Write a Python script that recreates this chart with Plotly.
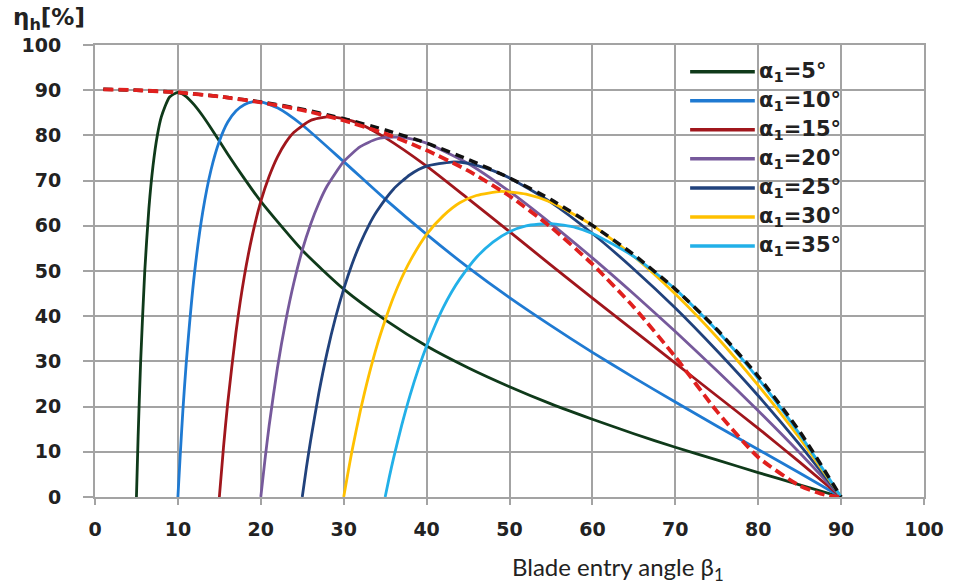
import plotly.graph_objects as go

# ---------------- data ----------------
series_names = ["α<sub>1</sub>=5°", "α<sub>1</sub>=10°", "α<sub>1</sub>=15°", "α<sub>1</sub>=20°",
                "α<sub>1</sub>=25°", "α<sub>1</sub>=30°", "α<sub>1</sub>=35°"]

beta_a5 = [5, 5.2, 5.5, 6, 6.5, 7, 7.5, 8, 9, 10, 11, 12, 13, 14, 16, 18, 20, 25, 30, 35, 40, 45, 50, 55, 60, 65, 70, 75, 80, 85, 90]
eta_a5 = [0, 13.3, 29.7, 49.9, 63.8, 73.3, 79.8, 84.1, 88.5, 89.5, 88.6, 86.7, 84.3, 81.6, 75.9, 70.5, 65.4, 54.6, 46.0, 39.2, 33.4, 28.6, 24.4, 20.6, 17.2, 14.0, 11.0, 8.2, 5.4, 2.7, 0]

beta_a10 = [10, 10.3, 10.6, 11, 12, 13, 14, 15, 16, 17, 18, 19, 20, 22, 25, 30, 35, 40, 45, 50, 55, 60, 65, 70, 75, 80, 85, 90]
eta_a10 = [0, 9.9, 19.1, 29.5, 49.5, 63.1, 72.4, 78.7, 82.9, 85.4, 86.8, 87.4, 87.4, 86.1, 82.3, 74.2, 65.9, 58.1, 50.8, 44.1, 37.9, 32.0, 26.4, 21.0, 15.7, 10.5, 5.3, 0]

beta_a15 = [15, 15.5, 16, 17, 18, 19, 20, 21, 22, 23, 24, 26, 28, 30, 32, 35, 40, 45, 50, 55, 60, 65, 70, 75, 80, 85, 90]
eta_a15 = [0, 11.0, 20.6, 36.4, 48.7, 58.1, 65.4, 70.9, 75.2, 78.4, 80.7, 83.3, 84.1, 83.7, 82.5, 79.5, 73.2, 66.0, 58.7, 51.3, 44.0, 36.8, 29.6, 22.4, 15.2, 7.7, 0]

beta_a20 = [20, 20.5, 21, 22, 23, 24, 25, 26, 27, 28, 30, 32, 34, 36, 38, 40, 45, 50, 55, 60, 65, 70, 75, 80, 85, 90]
eta_a20 = [0, 8.2, 15.7, 28.5, 38.9, 47.5, 54.6, 60.3, 65.0, 68.8, 74.2, 77.5, 79.2, 79.6, 79.3, 78.3, 73.8, 67.6, 60.5, 52.9, 44.9, 36.6, 28.0, 19.1, 9.8, 0]

beta_a25 = [25, 25.5, 26, 27, 28, 29, 30, 31, 32, 33, 34, 36, 38, 40, 43, 45, 48, 50, 55, 60, 65, 70, 75, 80, 85, 90]
eta_a25 = [0, 6.5, 12.4, 23.0, 32.0, 39.6, 46.0, 51.5, 56.1, 60.0, 63.2, 68.1, 71.3, 73.2, 74.1, 73.8, 72.2, 70.6, 65.2, 58.3, 50.4, 41.8, 32.4, 22.4, 11.6, 0]

beta_a30 = [30, 30.5, 31, 32, 33, 34, 35, 36, 37, 38, 40, 42, 44, 46, 49, 52, 55, 60, 65, 70, 75, 80, 85, 90]
eta_a30 = [0, 5.2, 10.2, 19.0, 26.7, 33.4, 39.1, 44.2, 48.5, 52.2, 58.1, 62.2, 65.1, 66.7, 67.6, 67.0, 65.2, 60.1, 53.2, 44.9, 35.4, 24.7, 13.0, 0]

beta_a35 = [35, 35.5, 36, 37, 38, 39, 40, 41, 42, 43, 44, 46, 48, 50, 52, 55, 58, 60, 65, 70, 75, 80, 85, 90]
eta_a35 = [0, 4.4, 8.5, 15.9, 22.5, 28.3, 33.4, 37.9, 41.9, 45.3, 48.2, 53.0, 56.4, 58.7, 60.0, 60.5, 59.6, 58.3, 53.2, 46.0, 36.9, 26.2, 13.9, 0]

# black dashed envelope
beta_env = [1, 5, 10, 15, 20, 25, 30, 35, 40, 45, 50, 55, 60, 65, 70, 75, 80, 85, 90]
eta_env = [90.2, 90.0, 89.5, 88.6, 87.4, 85.8, 83.7, 81.2, 78.3, 74.7, 70.6, 65.8, 60.1, 53.6, 46.0, 37.1, 26.7, 14.5, 0]

# red dashed curve (locus of maxima)
beta_peak = [1, 5, 10, 15, 20, 25, 30, 35, 40, 45, 50, 55, 60, 65, 70, 75, 80, 85, 88, 90]
eta_peak = [90.2, 90.0, 89.5, 88.6, 87.3, 85.6, 83.3, 80.4, 76.7, 72.2, 66.6, 59.7, 51.5, 42.0, 31.0, 19.0, 8.8, 2.5, 0.5, 0]

x_ticks = [0, 10, 20, 30, 40, 50, 60, 70, 80, 90, 100]
y_ticks = [0, 10, 20, 30, 40, 50, 60, 70, 80, 90, 100]

# ---------------- styling ----------------
colors = ["#0f3a1a", "#1f7ad2", "#a0161c", "#76599b", "#21427c", "#ffc000", "#22b0e8"]
betas = [beta_a5, beta_a10, beta_a15, beta_a20, beta_a25, beta_a30, beta_a35]
etas = [eta_a5, eta_a10, eta_a15, eta_a20, eta_a25, eta_a30, eta_a35]

W, H = 956, 585
ML, MR, MT, MB = 95, 28, 45, 88
PW, PH = W - ML - MR, H - MT - MB
GRID = "#a3a3a3"
TXT = "#222222"
BOLD_FONT = "DejaVu Sans"

fig = go.Figure()
for name, bx, ey, col in zip(series_names, betas, etas, colors):
    fig.add_trace(go.Scatter(x=bx, y=ey, mode="lines", name=name,
                             line=dict(color=col, width=2.8, shape="spline", smoothing=0.6),
                             showlegend=False))

fig.add_trace(go.Scatter(x=beta_env, y=eta_env, mode="lines", name="envelope",
                         line=dict(color="#111111", width=3.5, dash="9px,6px", shape="spline", smoothing=0.6),
                         showlegend=False))
fig.add_trace(go.Scatter(x=beta_peak, y=eta_peak, mode="lines", name="maxima",
                         line=dict(color="#e0201e", width=3.8, dash="10px,5px", shape="spline", smoothing=0.6),
                         showlegend=False))

# manual legend (long line samples as in the reference)
def px_to_paper_x(px):
    return (px - ML) / PW

def px_to_paper_y(py):
    return (H - MB - py) / PH

row_top = 71.7
row_gap = 29.05
for i, (name, col) in enumerate(zip(series_names, colors)):
    yy = px_to_paper_y(row_top + i * row_gap)
    fig.add_shape(type="line", xref="paper", yref="paper",
                  x0=px_to_paper_x(693), x1=px_to_paper_x(758), y0=yy, y1=yy,
                  line=dict(color=col, width=3.5))
    fig.add_annotation(xref="paper", yref="paper", x=px_to_paper_x(760), y=yy,
                       xanchor="left", yanchor="middle", showarrow=False, text=name,
                       font=dict(family=BOLD_FONT, size=21, color=TXT, weight="bold"))

# axis titles
fig.add_annotation(xref="paper", yref="paper", x=px_to_paper_x(11), y=px_to_paper_y(19),
                   xanchor="left", yanchor="middle", showarrow=False,
                   text="η<sub>h</sub>[%]",
                   font=dict(family=BOLD_FONT, size=23, color=TXT, weight="bold"))
fig.add_annotation(xref="paper", yref="paper", x=px_to_paper_x(621), y=px_to_paper_y(568),
                   xanchor="center", yanchor="middle", showarrow=False,
                   text="Blade entry angle β<sub>1</sub>",
                   font=dict(family="Lato", size=24, color=TXT))

axis_common = dict(showgrid=True, gridcolor=GRID, gridwidth=2,
                   showline=True, linecolor=GRID, linewidth=2, mirror=True,
                   zeroline=False, ticks="outside", tickcolor=GRID, tickwidth=2,
                   tickfont=dict(family=BOLD_FONT, size=19, color=TXT, weight="bold"))

fig.update_xaxes(range=[0, 100], tickmode="array", tickvals=x_ticks,
                 ticktext=[str(v) for v in x_ticks], ticklen=6, ticklabelstandoff=8,
                 **axis_common)
fig.update_yaxes(range=[0, 100], tickmode="array", tickvals=y_ticks,
                 ticktext=[str(v) for v in y_ticks], ticklen=10, ticklabelstandoff=18,
                 **axis_common)

fig.update_layout(width=W, height=H, autosize=False,
                  margin=dict(l=ML, r=MR, t=MT, b=MB, pad=0),
                  plot_bgcolor="white", paper_bgcolor="white")

fig.write_html("out.html", config={"displayModeBar": False},
               post_script="document.body.style.margin='0';")
